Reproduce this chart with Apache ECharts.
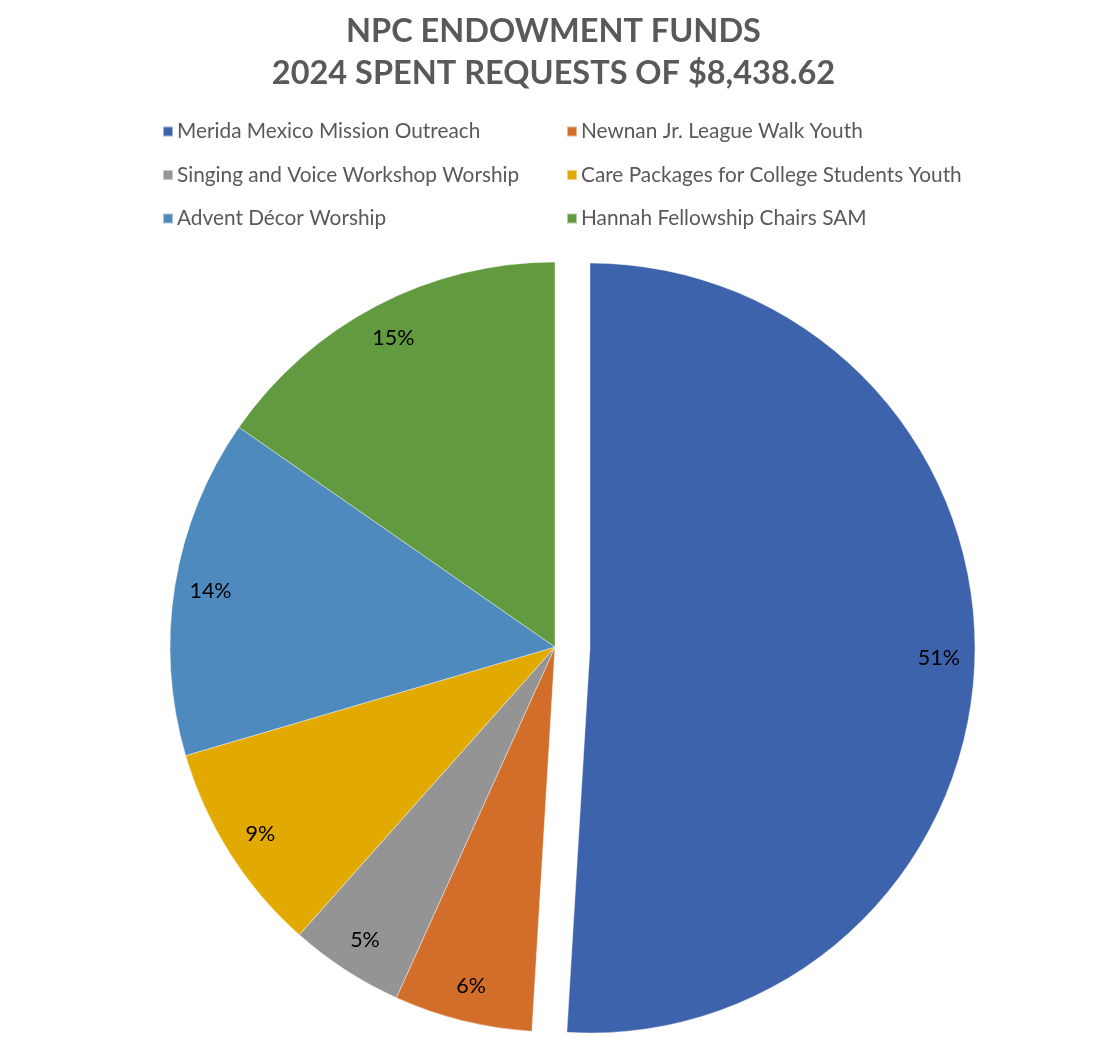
<!DOCTYPE html>
<html lang="en">
<head>
    <meta charset="UTF-8">
    <title>NPC Endowment Funds</title>
    <style>
        html, body { margin: 0; padding: 0; background: #fff; }
    </style>
</head>
<body>
<script src="https://cdn.jsdelivr.net/npm/echarts@6/dist/echarts.min.js"></script>

<div id="main" style="width: 1107px;height:1057px;"></div>

<script type="text/javascript">
    // 数据
    var categories = [
        'Merida Mexico Mission Outreach',
        'Newnan Jr. League Walk Youth',
        'Singing and Voice Workshop Worship',
        'Care Packages for College Students Youth',
        'Advent Décor Worship',
        'Hannah Fellowship Chairs SAM'
    ];
    var amounts = [4300, 490, 405, 750, 1200, 1293.62];
    var colors = ['#3E63AD', '#D26E2A', '#949494', '#E2A900', '#4E8ABE', '#629A3F'];
    var legendLeft = [categories[0], categories[2], categories[4]];
    var legendRight = [categories[1], categories[3], categories[5]];

    var fontName = 'Lato';

    var pieData = categories.map(function (name, i) {
        return {
            name: name,
            value: amounts[i],
            selected: i === 0,
            itemStyle: { color: colors[i] }
        };
    });
    var labelData = categories.map(function (name, i) {
        return { name: name, value: amounts[i], selected: i === 0 };
    });

    function legendItems(names) {
        return names.map(function (n) {
            return { name: n, itemStyle: { color: colors[categories.indexOf(n)] } };
        });
    }

    var legendBase = {
        orient: 'vertical',
        top: 116,
        itemWidth: 10,
        itemHeight: 10,
        itemGap: 22.5,
        icon: 'rect',
        selectedMode: false,
        textStyle: { color: '#595959', fontSize: 20.8, lineHeight: 20, fontFamily: fontName, padding: [0, 0, 0, -1] }
    };

    var myChart = echarts.init(document.getElementById('main'));
    var option = {
        animation: false,
        title: {
            text: 'NPC ENDOWMENT FUNDS\n2024 SPENT REQUESTS OF $8,438.62',
            left: 'center',
            top: 6,
            textStyle: {
                color: '#595959',
                fontSize: 32.5,
                fontWeight: 'bold',
                lineHeight: 42,
                fontFamily: fontName
            }
        },
        legend: [
            Object.assign({}, legendBase, { left: 157, data: legendItems(legendLeft) }),
            Object.assign({}, legendBase, { left: 561, data: legendItems(legendRight) })
        ],
        series: [
            {
                name: 'funds',
                type: 'pie',
                center: [555, 647],
                radius: [0, 385],
                startAngle: 90,
                clockwise: true,
                selectedMode: 'single',
                selectedOffset: 35,
                silent: true,
                emphasis: { disabled: true },
                itemStyle: { borderColor: 'rgba(255,255,255,0.5)', borderWidth: 0.8 },
                label: { show: false },
                labelLine: { show: false },
                data: pieData
            },
            {
                // 只用来放百分比标签
                name: 'labels',
                type: 'pie',
                center: [555, 647],
                radius: [310, 382],
                startAngle: 90,
                clockwise: true,
                selectedMode: 'single',
                selectedOffset: 35,
                silent: true,
                emphasis: { disabled: true },
                itemStyle: { color: 'rgba(0,0,0,0)', borderWidth: 0 },
                label: {
                    show: true,
                    position: 'inside',
                    formatter: function (p) { return Math.round(p.percent) + '%'; },
                    color: '#000',
                    fontSize: 21.5,
                    fontFamily: fontName
                },
                labelLine: { show: false },
                data: labelData
            }
        ]
    };
    myChart.setOption(option);
</script>
</body>
</html>
